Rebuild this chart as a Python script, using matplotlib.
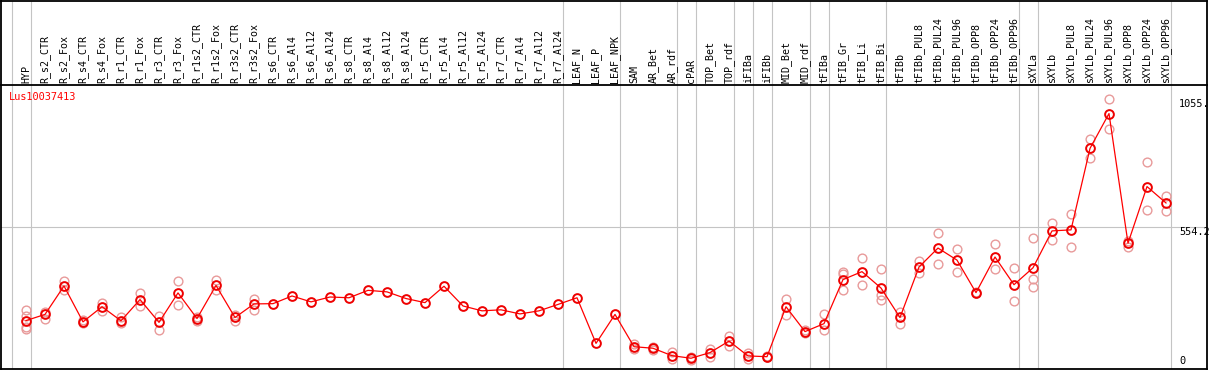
import matplotlib
matplotlib.use("Agg")
import matplotlib.pyplot as plt
import matplotlib.transforms as mtransforms

categories = [
    "HYP", "R_s2_CTR", "R_s2_Fox", "R_s4_CTR", "R_s4_Fox", "R_r1_CTR", "R_r1_Fox",
    "R_r3_CTR", "R_r3_Fox", "R_r1s2_CTR", "R_r1s2_Fox", "R_r3s2_CTR", "R_r3s2_Fox",
    "R_s6_CTR", "R_s6_Al4", "R_s6_Al12", "R_s6_Al24", "R_s8_CTR", "R_s8_Al4",
    "R_s8_Al12", "R_s8_Al24", "R_r5_CTR", "R_r5_Al4", "R_r5_Al12", "R_r5_Al24",
    "R_r7_CTR", "R_r7_Al4", "R_r7_Al12", "R_r7_Al24", "LEAF_N", "LEAF_P", "LEAF_NPK",
    "SAM", "AR_Bet", "AR_rdf", "cPAR", "TOP_Bet", "TOP_rdf", "iFIBa", "iFIBb",
    "MID_Bet", "MID_rdf", "tFIBa", "tFIB_Gr", "tFIB_Li", "tFIB_Bi", "tFIBb",
    "tFIBb_PUL8", "tFIBb_PUL24", "tFIBb_PUL96", "tFIBb_OPP8", "tFIBb_OPP24",
    "tFIBb_OPP96", "sXYLa", "sXYLb", "sXYLb_PUL8", "sXYLb_PUL24", "sXYLb_PUL96",
    "sXYLb_OPP8", "sXYLb_OPP24", "sXYLb_OPP96",
]

means = [
    189, 213, 324, 184, 243, 188, 271, 182, 297, 197, 326, 201, 254,
    255, 285, 262, 281, 278, 307, 301, 275, 259, 323, 246, 227, 231, 215, 227, 252,
    278, 100, 213, 87, 81, 52, 42, 64, 109, 51, 48, 243, 146, 177, 349, 380, 316,
    201, 398, 472, 425, 298, 437, 329, 395, 539, 543, 861, 997, 491, 712, 648,
]

replicates = [
    [232, 206, 165, 156], [223, 197], [343, 307], [191, 178], [259, 226],
    [201, 178], [297, 245], [208, 152], [343, 249], [201, 188], [346, 310],
    [210, 187], [275, 229], [], [], [], [], [], [], [], [], [], [], [], [], [], [],
    [], [], [], [], [], [96, 78], [85, 76], [68, 38], [47, 37], [78, 48],
    [130, 90], [61, 38], [50, 46], [272, 210], [152, 139], [215, 154],
    [378, 369, 310], [433, 328], [391, 288, 271], [223, 175], [420, 376],
    [530, 411], [468, 378], [300, 296], [487, 391], [394, 266],
    [512, 352, 320], [570, 505], [605, 475], [896, 825], [1055.6, 935],
    [501, 478], [806, 620], [675, 615],
]

group_starts = [0, 1, 29, 32, 35, 36, 38, 39, 40, 42, 43, 46, 53, 54, 61]
gene = "Lus10037413"

W, H = 1209, 370
fig = plt.figure(figsize=(W / 100, H / 100), dpi=100)
mono = "DejaVu Sans Mono"

# pixel geometry
px_left, px_right = 1, 1207
x0_px, step_px = 26, 19
xmin = (px_left - x0_px) / step_px
xmax = (px_right - x0_px) / step_px
header_px = 85
bottom_px = 369

ax = fig.add_axes([px_left / W, (H - bottom_px) / H, (px_right - px_left) / W,
                   (bottom_px - header_px) / H])
hx = fig.add_axes([px_left / W, (H - header_px) / H, (px_right - px_left) / W,
                   (header_px - 0.5) / H])

allvals = [v for r in replicates for v in r] + means
vmax = max(allvals)
ymax = vmax * 1.05

x = list(range(len(categories)))
grid_c = "#c4c4c4"
for a in (ax, hx):
    a.set_xlim(xmin, xmax)
    a.set_xticks([])
    a.set_yticks([])
    for gs in group_starts:
        a.axvline(gs - 14.5 / step_px, color=grid_c, lw=0.8, zorder=0)
    for s in a.spines.values():
        s.set_color("black")
        s.set_linewidth(1.3)

ax.set_ylim(0, ymax)
hx.set_ylim(0, 1)
ax.spines["top"].set_visible(False)
ax.axhline(ymax / 2, color=grid_c, lw=0.8, zorder=0)

# replicates
rx, ry = [], []
for i, r in enumerate(replicates):
    for v in r:
        rx.append(i)
        ry.append(v)
ax.plot(rx, ry, ls="none", marker="o", ms=6.3, mfc="none", mec="#e89a9a",
        mew=1.0, zorder=2)
ax.plot(x, means, color="red", lw=0.9, zorder=3)
ax.plot(x, means, ls="none", marker="o", ms=6.3, mfc="none", mec="#ee0000",
        mew=1.4, zorder=4)

# header labels
for i, c in enumerate(categories):
    hx.text(i, 0.025, c, rotation=90, ha="center", va="bottom",
            fontsize=7.2, family=mono, color="black")

# gene name
ax.text((9 - px_left) / (px_right - px_left), 1 - 7 / (bottom_px - header_px),
        gene, transform=ax.transAxes, ha="left", va="top", fontsize=7.4,
        family=mono, color="red")

# right value labels
tr = mtransforms.blended_transform_factory(ax.transAxes, ax.transData)
lx = (1179 - px_left) / (px_right - px_left)
ax.text(lx, vmax, f"{int(vmax)}.", transform=tr, ha="left", va="top",
        fontsize=7.4, family=mono)
ax.text(lx, ymax / 2, f"{ymax / 2:.1f}", transform=tr, ha="left", va="top",
        fontsize=7.4, family=mono)
ax.text(lx, ymax * 0.01, "0", transform=tr, ha="left", va="bottom",
        fontsize=7.4, family=mono)

fig.savefig("out.png", dpi=100)
